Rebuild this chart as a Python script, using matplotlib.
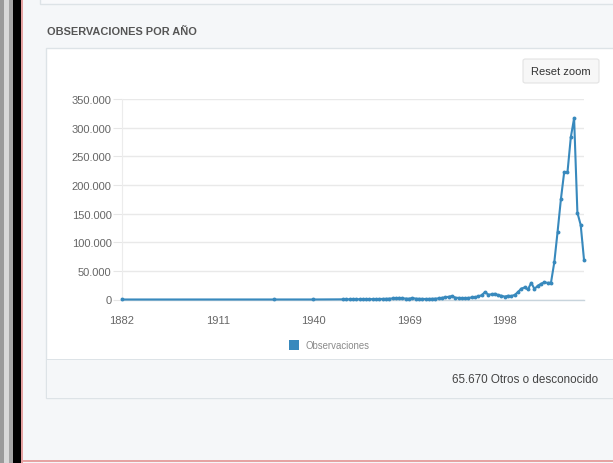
"""Observaciones por año - recreación de la gráfica (PNG estático)."""

import matplotlib

matplotlib.use("Agg")
import matplotlib.pyplot as plt
from matplotlib.patches import Rectangle, FancyBboxPatch
from matplotlib.ticker import FuncFormatter

W, H = 613, 464

# datos (aprox.)
early_years = [1882, 1928, 1940]
early_vals = [10, 40, 60]

years = list(range(1949, 2023))
vals = [
    300, 400, 350, 400, 450, 500, 500, 550, 600, 700,        # 1949-1958
    800, 900, 1000, 1200, 1500, 1800, 2200, 2800, 2000, 1600,  # 1959-1968
    1400, 2600, 1500, 1200, 1000, 900, 1000, 1200, 1500, 2000,  # 1969-1978
    3000, 3800, 4800, 6000, 3200, 2800, 2500, 2400, 2800, 3500,  # 1979-1988
    4000, 5500, 7500, 13000, 8500, 9000, 10000, 7500, 6500, 5000,  # 1989-1998
    6500, 6000, 8000, 13000, 19000, 21000, 17500, 29000, 18500, 24000,  # 1999-2008
    27500, 30000, 29000, 29500, 65000, 118500, 175000, 222500, 222500, 283000,  # 2009-2018
    316500, 151500, 130000, 69500,  # 2019-2022
]

x_ticks = [1882, 1911, 1940, 1969, 1998]
y_ticks = [0, 50000, 100000, 150000, 200000, 250000, 300000, 350000]

LINE = "#3889bd"
BG = "#f5f7f9"
BORDER = "#dde3e7"

plt.rcParams["font.family"] = ["Liberation Sans", "DejaVu Sans"]

fig = plt.figure(figsize=(W / 100, H / 100), dpi=100)
fig.patch.set_facecolor(BG)


def rect(x0, y0, x1, y1, **kw):
    # pixel coords, origin top-left
    fig.patches.append(Rectangle((x0 / W, 1 - y1 / H), (x1 - x0) / W, (y1 - y0) / H,
                                 transform=fig.transFigure, zorder=-1, **kw))


def text(x, y, s, **kw):
    fig.text(x / W, 1 - y / H, s, **kw)


# marco de la captura
rect(0, 0, 4, H, facecolor="#9a9a9a", edgecolor="none")
rect(4, 0, 9, H, facecolor="#d8d8d8", edgecolor="none")
rect(9, 0, 13, H, facecolor="#a5a5a5", edgecolor="none")
rect(13, 0, 21, H, facecolor="#000000", edgecolor="none")
rect(21, 0, 22.5, H, facecolor="#e6a3a3", edgecolor="none")
rect(22, 461, W, 462.5, facecolor="#e6a3a3", edgecolor="none")

# panel superior (solo se ve el borde inferior)
rect(40, -10, W + 10, 5, facecolor="#f8f9fb", edgecolor=BORDER, linewidth=1)

text(47, 32, "OBSERVACIONES POR AÑO", fontsize=7.9, fontweight="bold",
     color="#555555", va="center", ha="left")

# panel del gráfico
rect(46, 49, W + 10, 399, facecolor="white", edgecolor=BORDER, linewidth=1)
rect(46.5, 360, W + 10, 398.5, facecolor=BG, edgecolor="none")
rect(46, 360, W + 10, 360.8, facecolor=BORDER, edgecolor="none")
text(598, 380, "65.670 Otros o desconocido", fontsize=8.4, color="#444444",
     ha="right", va="center")

# botón "Reset zoom"
fig.patches.append(FancyBboxPatch((523 / W, 1 - 84 / H), 76 / W, 24 / H,
                                  boxstyle="round,pad=0,rounding_size=0.004",
                                  transform=fig.transFigure, facecolor="#f7f7f7",
                                  edgecolor="#e3e3e3", linewidth=0.8, zorder=-1))
text(561, 72, "Reset zoom", fontsize=8.0, color="#333333", ha="center", va="center")

# ejes
ax = fig.add_axes([122 / W, 1 - 300.5 / H, (584 - 122) / W, (300.5 - 100) / H])
ax.set_zorder(5)
ax.patch.set_alpha(0)
ax.plot(early_years + years, early_vals + vals, color=LINE, linewidth=1.5,
        marker="o", markersize=2.8, markeredgewidth=0, clip_on=False, zorder=3)

ax.set_xlim(1882, 2022)
ax.set_ylim(0, 350000)
ax.set_xticks(x_ticks)
ax.set_yticks(y_ticks)
ax.yaxis.set_major_formatter(FuncFormatter(lambda v, p: f"{int(v):,}".replace(",", ".")))
ax.grid(axis="y", color="#e9e9e9", linewidth=1)
ax.set_axisbelow(True)
for side in ("top", "right"):
    ax.spines[side].set_visible(False)
ax.spines["left"].set_color("#ececec")
ax.spines["bottom"].set_color("#c8d4dc")
ax.spines["bottom"].set_linewidth(1)
ax.tick_params(axis="y", length=6.5, width=0.8, color="#e6e6e6", pad=1,
               labelsize=8, labelcolor="#666666")
ax.tick_params(axis="x", length=0, pad=11, labelsize=8, labelcolor="#666666")

# leyenda
rect(289, 341, 299, 351, facecolor=LINE, edgecolor="none")
text(305, 346, "Observaciones", fontsize=6.9, color="#8a8a8a", ha="left", va="center")

fig.savefig("out.png", dpi=100, facecolor=fig.get_facecolor())
